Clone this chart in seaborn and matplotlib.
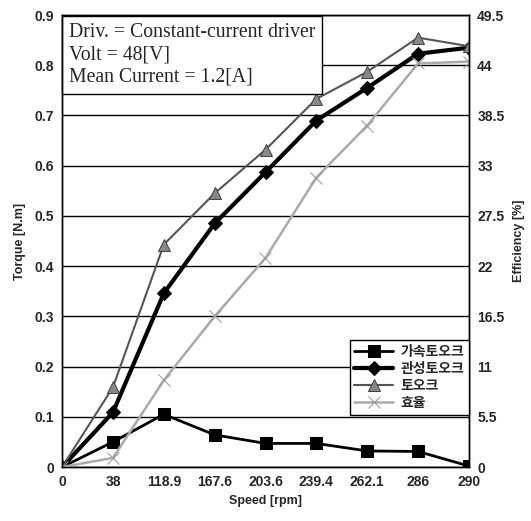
import matplotlib
matplotlib.use('Agg')
import matplotlib.pyplot as plt
import numpy as np
import pandas as pd
import seaborn as sns

speed = ['0', '38', '118.9', '167.6', '203.6', '239.4', '262.1', '286', '290']
accel_torque = [0.0, 0.05, 0.105, 0.064, 0.047, 0.047, 0.032, 0.031, 0.002]
inertia_torque = [0.0, 0.109, 0.346, 0.485, 0.587, 0.69, 0.755, 0.823, 0.835]
torque = [0.0, 0.159, 0.443, 0.545, 0.632, 0.733, 0.787, 0.855, 0.838]
efficiency = [0.0, 1.0, 9.5, 16.5, 22.9, 31.7, 37.4, 44.2, 44.4]

labels = ['가속토오크', '관성토오크', '토오크', '효율']

sns.set_style('white')
plt.rcParams['font.family'] = ['Liberation Sans', 'Noto Sans CJK KR', 'DejaVu Sans']

df = pd.DataFrame({'pos': np.arange(len(speed)), 'accel': accel_torque,
                   'inertia': inertia_torque, 'torque': torque, 'eff': efficiency})

fig = plt.figure(figsize=(5.31, 5.21), dpi=100)
ax = fig.add_axes([0.117, 0.1036, 0.766, 0.8675])
ax2 = ax.twinx()

sns.lineplot(data=df, x='pos', y='accel', ax=ax, color='black', lw=2, marker='s',
             markersize=9, markeredgecolor='black', label=labels[0], legend=False)
sns.lineplot(data=df, x='pos', y='inertia', ax=ax, color='black', lw=3, marker='D',
             markersize=7, markeredgecolor='black', label=labels[1], legend=False)
sns.lineplot(data=df, x='pos', y='torque', ax=ax, color='#555555', lw=1.5, marker='^',
             markersize=8, markeredgecolor='#444444', markerfacecolor='#888888',
             label=labels[2], legend=False)
sns.lineplot(data=df, x='pos', y='eff', ax=ax2, color='#aaaaaa', lw=1.8, marker='x',
             markersize=8, markeredgecolor='#999999', label=labels[3], legend=False)

ax.set_xlim(0, len(speed) - 1)
ax.set_ylim(0, 0.9)
ax2.set_ylim(0, 49.5)
ax.set_xticks(np.arange(len(speed)))
ax.set_xticklabels(speed)
ax.set_yticks(np.arange(0, 0.91, 0.1))
ax.set_yticklabels(['0'] + [f'{v:.1f}' for v in np.arange(0.1, 0.91, 0.1)])
ax2.set_yticks(np.arange(0, 49.6, 5.5))
ax2.set_yticklabels(['0'] + [f'{v:g}' for v in np.arange(5.5, 49.6, 5.5)])

for a in (ax, ax2):
    a.tick_params(labelsize=10, length=0, pad=6)
    for t in a.get_xticklabels() + a.get_yticklabels():
        t.set_fontweight('bold')
    for s in a.spines.values():
        s.set_color('black')
        s.set_linewidth(1)
ax.tick_params(axis='x', direction='in', length=3, color='#888888')

ax.yaxis.grid(True, color='black', lw=1)
ax.set_axisbelow(True)

ax.set_xlabel('Speed [rpm]', fontsize=9, fontweight='bold')
ax.set_ylabel('Torque [N.m]', fontsize=9, fontweight='bold', labelpad=6)
ax2.set_ylabel('Efficiency [%]', fontsize=9, fontweight='bold', labelpad=6)

ax.text(0.016, 0.983,
        'Driv. = Constant-current driver\nVolt = 48[V]\nMean Current = 1.2[A]',
        transform=ax.transAxes, va='top', ha='left', fontsize=14.2,
        family='Liberation Serif', linespacing=1.25,
        bbox=dict(boxstyle='square,pad=0.35', fc='white', ec='black', lw=1))

h1, l1 = ax.get_legend_handles_labels()
h2, l2 = ax2.get_legend_handles_labels()
leg = ax2.legend(h1 + h2, l1 + l2, loc='lower right', bbox_to_anchor=(1.0, 0.115),
                 borderaxespad=0, fancybox=False, edgecolor='black', framealpha=1,
                 borderpad=0.35, handlelength=2.8, handletextpad=0.5, labelspacing=0.22,
                 prop={'family': ['Noto Sans CJK KR', 'DejaVu Sans'], 'weight': 'bold', 'size': 10})
leg.get_frame().set_linewidth(1)

fig.savefig('out.png', dpi=100)
